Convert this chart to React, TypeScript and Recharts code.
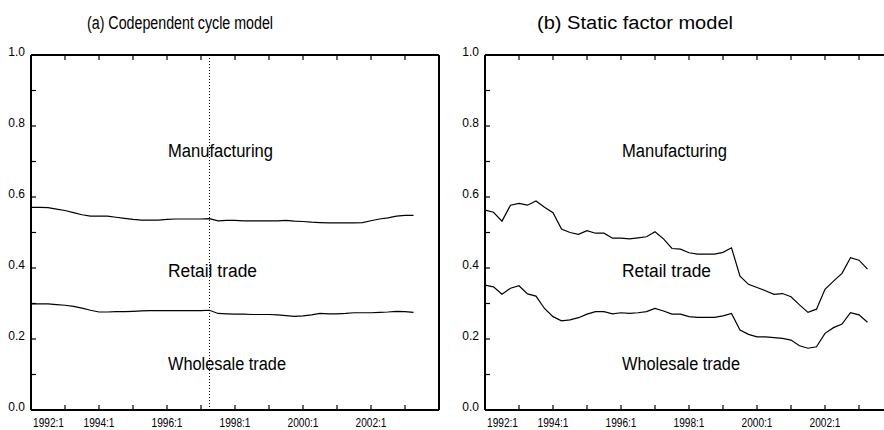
import React from 'react';
import { LineChart, Line, XAxis, YAxis, ReferenceLine } from 'recharts';

// quarterly periods 1992:1 .. 2003:2
const years = [1992, 1993, 1994, 1995, 1996, 1997, 1998, 1999, 2000, 2001, 2002, 2003];
const periods = years.flatMap((y) => [1, 2, 3, 4].map((q) => ({ label: `${y}:${q}`, t: y + (q - 1) / 4 }))).slice(0, 46);

// (a) codependent cycle model: boundaries manufacturing/retail and retail/wholesale
const codepUpper = [
  0.571, 0.571, 0.570, 0.566, 0.562, 0.556, 0.550, 0.546, 0.546, 0.546,
  0.543, 0.540, 0.537, 0.535, 0.535, 0.535, 0.537, 0.538, 0.538, 0.538,
  0.538, 0.539, 0.533, 0.534, 0.534, 0.533, 0.533, 0.533, 0.533, 0.533,
  0.534, 0.532, 0.531, 0.529, 0.528, 0.527, 0.527, 0.527, 0.527, 0.528,
  0.533, 0.538, 0.541, 0.546, 0.548, 0.548,
];
const codepLower = [
  0.299, 0.299, 0.299, 0.297, 0.295, 0.292, 0.287, 0.281, 0.276, 0.276,
  0.277, 0.277, 0.278, 0.279, 0.280, 0.280, 0.280, 0.280, 0.280, 0.280,
  0.280, 0.281, 0.272, 0.271, 0.270, 0.270, 0.269, 0.269, 0.269, 0.268,
  0.266, 0.264, 0.265, 0.268, 0.272, 0.271, 0.271, 0.272, 0.274, 0.274,
  0.274, 0.275, 0.276, 0.278, 0.277, 0.275,
];

// (b) static factor model
const staticUpper = [
  0.563, 0.557, 0.532, 0.577, 0.582, 0.577, 0.589, 0.571, 0.556, 0.510,
  0.500, 0.495, 0.505, 0.498, 0.498, 0.484, 0.484, 0.482, 0.485, 0.488,
  0.502, 0.482, 0.455, 0.453, 0.443, 0.439, 0.439, 0.439, 0.444, 0.457,
  0.377, 0.354, 0.345, 0.336, 0.326, 0.328, 0.319, 0.296, 0.275, 0.284,
  0.340, 0.363, 0.385, 0.429, 0.422, 0.397,
];
const staticLower = [
  0.352, 0.347, 0.326, 0.343, 0.350, 0.327, 0.321, 0.286, 0.263, 0.251,
  0.254, 0.260, 0.270, 0.277, 0.277, 0.271, 0.274, 0.272, 0.274, 0.277,
  0.286, 0.279, 0.270, 0.270, 0.263, 0.261, 0.261, 0.261, 0.265, 0.272,
  0.225, 0.213, 0.206, 0.206, 0.204, 0.202, 0.197, 0.181, 0.174, 0.178,
  0.216, 0.232, 0.242, 0.274, 0.268, 0.247,
];

const yearTicks = [1992, 1993, 1994, 1995, 1996, 1997, 1998, 1999, 2000, 2001, 2002, 2003, 2004];
const labeledYears = [1992, 1994, 1996, 1998, 2000, 2002];
const yTicks = [0, 0.1, 0.2, 0.3, 0.4, 0.5, 0.6, 0.7, 0.8, 0.9, 1.0];
const yLabeled = [0, 0.2, 0.4, 0.6, 0.8, 1.0];
const breakPeriod = '1997:2';

const titles = ['(a) Codependent cycle model', '(b) Static factor model'];
const sectorNames = ['Manufacturing', 'Retail trade', 'Wholesale trade'];

const FONT = '"Liberation Sans", Arial, sans-serif';
const axisLine = { stroke: '#000', strokeWidth: 2 };
const tickLine = { stroke: '#000', strokeWidth: 1.2 };
const TICK = -5; // negative size -> tick marks point into the plot

// label positions are relative to the inner end of the tick mark
const BottomLabel = ({ x, y, payload }: any) => {
  const yr = payload.value;
  if (!labeledYears.includes(yr)) return <g />;
  const first = yr === yearTicks[0];
  return (
    <text
      x={first ? x + 2 : x}
      y={y - TICK + 17}
      textAnchor={first ? 'start' : 'middle'}
      fontFamily={FONT}
      fontSize={12}
      textLength={31}
      lengthAdjust="spacingAndGlyphs"
      fill="#000"
    >
      {`${yr}:1`}
    </text>
  );
};

const LeftLabel = ({ x, y, payload }: any) => {
  const v = payload.value;
  if (!yLabeled.some((l) => Math.abs(l - v) < 1e-6)) return <g />;
  return (
    <text x={x + TICK - 6} y={y + 1} textAnchor="end" fontFamily={FONT} fontSize={12} fill="#000">
      {v.toFixed(1)}
    </text>
  );
};

const NoLabel = () => <g />;

const Panel = ({ upper, lower, showBreak }: { upper: number[]; lower: number[]; showBreak?: boolean }) => {
  const data = periods.map((p, i) => ({ t: p.t, upper: upper[i], lower: lower[i] }));
  const breakT = periods.find((p) => p.label === breakPeriod)!.t;
  return (
    <LineChart width={442} height={430} data={data} margin={{ top: 54, right: 2, bottom: 19, left: 30 }}>
      <XAxis xAxisId="b" dataKey="t" type="number" domain={[1992, 2004]} ticks={yearTicks} interval={0}
        orientation="bottom" height={1} tickSize={TICK} tickMargin={0} tickLine={tickLine} axisLine={axisLine}
        tick={(p: any) => <BottomLabel {...p} />} />
      <XAxis xAxisId="t" dataKey="t" type="number" domain={[1992, 2004]} ticks={yearTicks} interval={0}
        orientation="top" height={1} tickSize={TICK} tickMargin={0} tickLine={tickLine} axisLine={axisLine}
        tick={NoLabel} />
      <YAxis yAxisId="l" type="number" domain={[0, 1]} ticks={yTicks} interval={0}
        orientation="left" width={1} tickSize={TICK} tickMargin={0} tickLine={tickLine} axisLine={axisLine}
        tick={(p: any) => <LeftLabel {...p} />} />
      <YAxis yAxisId="r" type="number" domain={[0, 1]} ticks={yTicks} interval={0}
        orientation="right" width={1} tickSize={TICK} tickMargin={0} tickLine={tickLine} axisLine={axisLine}
        tick={NoLabel} />
      {showBreak && (
        <ReferenceLine xAxisId="b" yAxisId="l" x={breakT} stroke="#000" strokeWidth={1} strokeDasharray="1 2" />
      )}
      <Line xAxisId="b" yAxisId="l" dataKey="upper" type="linear" dot={false} stroke="#000" strokeWidth={1.2} isAnimationActive={false} />
      <Line xAxisId="b" yAxisId="l" dataKey="lower" type="linear" dot={false} stroke="#000" strokeWidth={1.2} isAnimationActive={false} />
    </LineChart>
  );
};

const labelWidths = [105, 89, 118];
const labelBaselines = [157, 277, 370];

export default function App() {
  return (
    <div style={{ position: 'absolute', left: 0, top: 0, width: 884, height: 430, overflow: 'hidden', background: '#fff' }}>
      <div style={{ position: 'absolute', left: 0, top: 0 }}>
        <Panel upper={codepUpper} lower={codepLower} showBreak />
      </div>
      <div style={{ position: 'absolute', left: 454, top: 0 }}>
        <Panel upper={staticUpper} lower={staticLower} />
      </div>
      <svg width={884} height={430} style={{ position: 'absolute', left: 0, top: 0, pointerEvents: 'none' }}>
        <text x={87} y={29} fontFamily={FONT} fontSize={18} textLength={186} lengthAdjust="spacingAndGlyphs" fill="#000">
          {titles[0]}
        </text>
        <text x={537} y={29} fontFamily={FONT} fontSize={18} textLength={196} lengthAdjust="spacingAndGlyphs" fill="#000">
          {titles[1]}
        </text>
        {[168, 622].map((x0) =>
          sectorNames.map((name, i) => (
            <text key={`${x0}-${i}`} x={x0} y={labelBaselines[i]} fontFamily={FONT} fontSize={18}
              textLength={labelWidths[i]} lengthAdjust="spacingAndGlyphs" fill="#000">
              {name}
            </text>
          ))
        )}
      </svg>
    </div>
  );
}
